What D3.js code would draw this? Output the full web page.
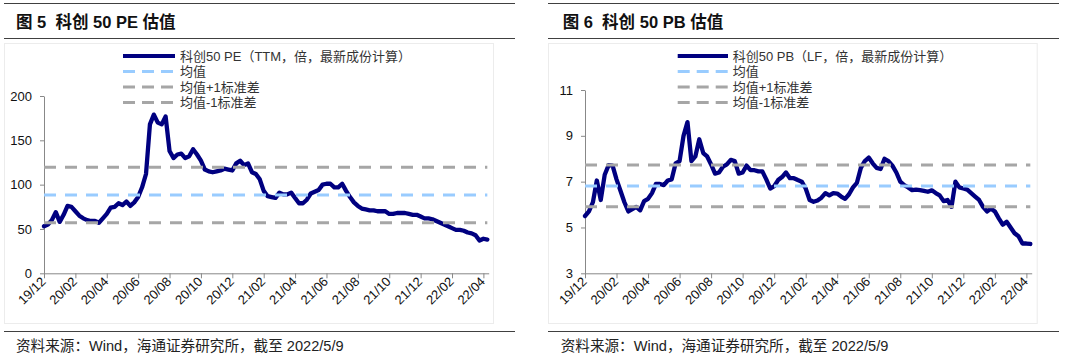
<!DOCTYPE html>
<html><head><meta charset="utf-8">
<script src="https://cdn.jsdelivr.net/npm/d3@7"></script>
<style>body{margin:0;background:#fff} svg{display:block}</style>
</head><body>
<svg id="c" width="1080" height="357"></svg>
<script>
// ---- data ----
const xLabels = ["19/12","20/02","20/04","20/06","20/08","20/10","20/12","21/02","21/04","21/06","21/08","21/10","21/12","22/02","22/04"];
const ticksPerLabel = 8; // data points between labelled ticks

const peValues = [
  53,55,60,69,58,66,76,75,70,65,62,60,59,59,57,62,
  67,74,75,79,77,81,76,80,86,97,112,168,179,170,168,177,
  138,130,134,135,130,132,140,134,127,117,115,114,115,116,118,117,
  116,124,127,122,124,114,112,106,93,87,86,85,91,89,89,91,
  85,79,79,83,90,92,94,100,101,101,97,97,101,93,86,80,
  76,73,72,71,71,70,70,70,67,67,68,68,68,67,66,66,
  64,62,62,61,59,57,55,53,51,49,49,48,46,45,43,37,
  39,38
];
const pbValues = [
  5.5,5.7,6.1,7.05,6.2,7.3,7.72,7.7,7.1,6.6,6.1,5.7,5.8,5.9,5.75,6.15,
  6.25,6.5,6.9,6.9,6.85,7.05,7.1,7.8,7.9,9.0,9.6,7.9,8.1,8.85,8.25,8.1,
  7.75,7.35,7.4,7.65,7.75,7.95,7.9,7.35,7.4,7.7,7.5,7.5,7.45,7.45,7.1,6.7,
  6.8,7.07,7.2,7.4,7.15,7.15,7.07,7.0,6.7,6.2,6.12,6.18,6.3,6.5,6.4,6.5,
  6.48,6.35,6.25,6.45,6.75,6.95,7.6,7.9,8.05,7.8,7.6,7.55,8.0,7.9,7.7,7.4,
  7.0,6.85,6.75,6.63,6.65,6.63,6.6,6.56,6.62,6.5,6.4,6.15,6.2,5.9,7.0,6.75,
  6.7,6.65,6.5,6.35,6.2,5.9,5.7,5.83,5.7,5.4,5.12,5.25,5.0,4.75,4.62,4.3,
  4.3,4.28
];
// reference lines: mean, mean+1sd, mean-1sd
const peRef = [88.3, 119.6, 57.0];
const pbRef = [6.81, 7.73, 5.90];
const peTicks = [0, 50, 100, 150, 200];
const pbTicks = [3, 5, 7, 9, 11];
const peLegend = ["科创50 PE（TTM，倍，最新成份计算）", "均值", "均值+1标准差", "均值-1标准差"];
const pbLegend = ["科创50 PB（LF，倍，最新成份计算）", "均值", "均值+1标准差", "均值-1标准差"];
const titles = ["图 5  科创 50 PE 估值", "图 6  科创 50 PB 估值"];
const sourceText = "资料来源：Wind，海通证券研究所，截至 2022/5/9";

const NAVY = "#000080", LBLUE = "#99CCFF", GREY = "#A6A6A6";
const FONT = "'Liberation Sans', Arial, 'Noto Sans CJK SC', sans-serif";

const svg = d3.select("#c");

const panels = [
  {title: titles[0], values: peValues, ref: peRef, ticks: peTicks, domain: [0, 200], legend: peLegend,
   ruleX: [4, 515], titleX: 16, frame: [4, 43, 493, 323], legendX: [123, 175, 180],
   plotX: [44, 488.7], plotY: [273.3, 96], sourceX: 16},
  {title: titles[1], values: pbValues, ref: pbRef, ticks: pbTicks, domain: [3, 11], legend: pbLegend,
   ruleX: [548, 1059], titleX: 562.7, frame: [548, 43, 1036.7, 323], legendX: [677.7, 728, 732.7],
   plotX: [585, 1031.7], plotY: [273.3, 90], sourceX: 560.7}
];

panels.forEach(p => {
  const g = svg.append("g");
  [3.5, 38.5, 331.5].forEach(yy => {
    g.append("line").attr("x1", p.ruleX[0]).attr("x2", p.ruleX[1]).attr("y1", yy).attr("y2", yy)
      .attr("stroke", "#404040").attr("stroke-width", 1.2);
  });
  g.append("text").attr("x", p.titleX).attr("y", 28).text(p.title)
    .attr("font-family", FONT).attr("font-size", 16.5).attr("font-weight", "bold").attr("fill", "#111")
    .style("white-space", "pre");
  g.append("rect").attr("x", p.frame[0] + 0.5).attr("y", p.frame[1] + 0.5)
    .attr("width", p.frame[2] - p.frame[0]).attr("height", p.frame[3] - p.frame[1])
    .attr("fill", "none").attr("stroke", "#ececec");
  g.append("text").attr("x", p.sourceX).attr("y", 351).text(sourceText)
    .attr("font-family", FONT).attr("font-size", 14.6).attr("fill", "#222");

  const n = p.values.length;
  const x = d3.scaleLinear().domain([0, (xLabels.length - 1) * ticksPerLabel + 1.35]).range(p.plotX);
  const y = d3.scaleLinear().domain(p.domain).range(p.plotY);

  const ya = g.append("g").attr("transform", `translate(${p.plotX[0]},0)`)
    .call(d3.axisLeft(y).tickValues(p.ticks).tickSize(4).tickPadding(8).tickSizeOuter(0));
  ya.select(".domain").attr("stroke", "#888");
  ya.selectAll(".tick line").attr("stroke", "#888");
  ya.selectAll("text").attr("font-family", FONT).attr("font-size", 13).attr("fill", "#111");

  const tickIdx = xLabels.map((d, i) => i * ticksPerLabel);
  const xa = g.append("g").attr("transform", `translate(0,${p.plotY[0]})`)
    .call(d3.axisBottom(x).tickValues(tickIdx).tickSize(5).tickSizeOuter(0)
      .tickFormat((d, i) => xLabels[i]));
  xa.select(".domain").attr("stroke", "#888");
  xa.selectAll(".tick line").attr("stroke", "#888");
  xa.selectAll("text").attr("font-family", FONT).attr("font-size", 13).attr("fill", "#111")
    .attr("text-anchor", "end").attr("dy", 0).attr("y", 0)
    .attr("transform", "translate(2,9) rotate(-45)");

  const line = d3.line().x((d, i) => x(i)).y(d => y(d));
  g.append("path").datum(p.values).attr("d", line).attr("fill", "none")
    .attr("stroke", NAVY).attr("stroke-width", 4.3).attr("stroke-linejoin", "round").attr("stroke-linecap", "round");

  const refColors = [LBLUE, GREY, GREY];
  p.ref.forEach((v, k) => {
    g.append("line").attr("x1", x(0)).attr("x2", x(n - 1)).attr("y1", y(v)).attr("y2", y(v))
      .attr("stroke", refColors[k]).attr("stroke-width", 3).attr("stroke-dasharray", "12,9");
  });

  const rowsY = [56, 71.5, 87, 102.5];
  const legColors = [NAVY, LBLUE, GREY, GREY];
  p.legend.forEach((t, k) => {
    g.append("line").attr("x1", p.legendX[0]).attr("x2", p.legendX[1]).attr("y1", rowsY[k]).attr("y2", rowsY[k])
      .attr("stroke", legColors[k]).attr("stroke-width", k === 0 ? 4 : 3)
      .attr("stroke-dasharray", k === 0 ? null : "12,7");
    g.append("text").attr("x", p.legendX[2]).attr("y", rowsY[k] + 4.5).text(t)
      .attr("font-family", FONT).attr("font-size", 13).attr("fill", "#333");
  });
});
</script>
</body></html>
